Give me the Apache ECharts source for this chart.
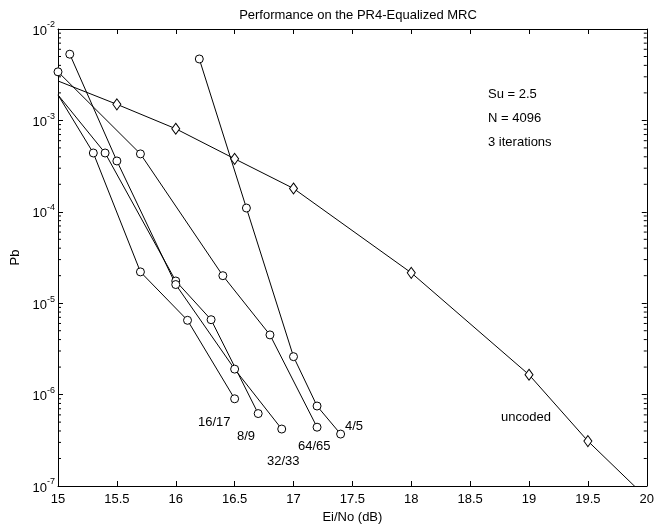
<!DOCTYPE html>
<html>
<head>
<meta charset="utf-8">
<script src="https://cdn.jsdelivr.net/npm/echarts@6/dist/echarts.min.js"></script>
<style>
  html, body { margin: 0; padding: 0; background: #fff; }
  #chart { width: 657px; height: 529px; }
</style>
</head>
<body>
<div id="chart"></div>
<script>
// (Ei/No in dB, Pb)
var x_16_17 = [15, 15.3, 15.7, 16.1, 16.5];
var pb_16_17 = [1.9e-3, 4.4e-4, 2.2e-5, 6.5e-6, 9.0e-7];
var x_8_9 = [15, 15.4, 16, 16.3, 16.7];
var pb_8_9 = [1.9e-3, 4.4e-4, 1.75e-5, 6.6e-6, 6.2e-7];
var x_32_33 = [15.1, 15.5, 16, 16.5, 16.9];
var pb_32_33 = [5.3e-3, 3.6e-4, 1.6e-5, 1.9e-6, 4.2e-7];
var x_64_65 = [15, 15.7, 16.4, 16.8, 17.2];
var pb_64_65 = [3.4e-3, 4.3e-4, 2.0e-5, 4.5e-6, 4.4e-7];
var x_4_5 = [16.2, 16.6, 17, 17.2, 17.4];
var pb_4_5 = [4.7e-3, 1.1e-4, 2.6e-6, 7.5e-7, 3.7e-7];
var x_uncoded = [15, 15.5, 16, 16.5, 17, 18, 19, 19.5, 20];
var pb_uncoded = [2.7e-3, 1.5e-3, 8.1e-4, 3.8e-4, 1.8e-4, 2.15e-5, 1.65e-6, 3.1e-7, 7.4e-8];

var titleText = 'Performance on the PR4-Equalized MRC';
var notes = ['Su = 2.5', 'N = 4096', '3 iterations'];

// minor tick marks on the log axis (2..9 in each decade)
var minorMantissa = [2, 3, 4, 5, 6, 7, 8, 9];
var decades = [-7, -6, -5, -4, -3];
var minorVals = [];
decades.forEach(function (d) {
    minorMantissa.forEach(function (m) { minorVals.push([15, m * Math.pow(10, d)]); });
});

var myChart = echarts.init(document.getElementById('chart'));

// points that start on the left axis have no marker drawn in the original
function pts(xs, ys, bareFirst) {
    var out = [];
    for (var i = 0; i < xs.length; i++) {
        var p = { value: [xs[i], ys[i]] };
        if (bareFirst && i == 0) p.symbol = 'none';
        out.push(p);
    }
    return out;
}

function coded(name, xs, ys, bareFirst) {
    return {
        name: name,
        type: 'line',
        data: pts(xs, ys, bareFirst),
        symbol: 'circle',
        symbolSize: 8,
        itemStyle: { color: '#fff', borderColor: '#000', borderWidth: 1 },
        lineStyle: { color: '#000', width: 1 },
        clip: true
    };
}

var font = 'Liberation Sans, Arial, Helvetica, sans-serif';
var tick = { show: true, inside: true, length: 5, lineStyle: { color: '#000' } };

option = {
    animation: false,
    backgroundColor: '#fff',
    textStyle: { fontFamily: font, color: '#000' },
    title: {
        text: titleText,
        left: 353, top: 4, textAlign: 'center',
        textStyle: { fontSize: 13, fontWeight: 'normal', color: '#000', fontFamily: font }
    },
    grid: { left: 58, right: 10, top: 29, bottom: 37 },
    xAxis: [{
        type: 'value', min: 15, max: 20, interval: 0.5,
        name: 'Ei/No (dB)', nameLocation: 'middle', nameGap: 25,
        nameTextStyle: { fontSize: 13, color: '#000', fontFamily: font },
        axisLine: { lineStyle: { color: '#000' } },
        axisTick: tick,
        axisLabel: { fontSize: 13, color: '#000', margin: 7, fontFamily: font },
        splitLine: { show: false }
    }, {
        type: 'value', min: 15, max: 20, interval: 0.5, position: 'top',
        axisLine: { lineStyle: { color: '#000' } },
        axisTick: tick, axisLabel: { show: false }, splitLine: { show: false }
    }],
    yAxis: [{
        type: 'log', logBase: 10, min: 1e-7, max: 1e-2,
        name: 'Pb', nameLocation: 'middle', nameGap: 36,
        nameTextStyle: { fontSize: 13, color: '#000', fontFamily: font },
        axisLine: { show: true, lineStyle: { color: '#000' } },
        axisTick: tick,
        axisLabel: {
            margin: 3, color: '#000', fontFamily: font,
            formatter: function (v) {
                return '{b|10}{s|' + Math.round(Math.log10(v)) + '}';
            },
            rich: {
                b: { fontSize: 13, fontFamily: font, color: '#000', verticalAlign: 'bottom' },
                s: { fontSize: 9, fontFamily: font, color: '#000', padding: [0, 0, 8, 0] }
            }
        },
        splitLine: { show: false }
    }, {
        type: 'log', logBase: 10, min: 1e-7, max: 1e-2, position: 'right',
        axisLine: { show: true, lineStyle: { color: '#000' } },
        axisTick: tick,
        axisLabel: { show: false }, splitLine: { show: false }
    }],
    series: [
        coded('16/17', x_16_17, pb_16_17, true),
        coded('8/9', x_8_9, pb_8_9, true),
        coded('32/33', x_32_33, pb_32_33, false),
        coded('64/65', x_64_65, pb_64_65, false),
        coded('4/5', x_4_5, pb_4_5, false),
        {
            name: 'uncoded',
            type: 'line',
            data: pts(x_uncoded, pb_uncoded, true),
            symbol: 'diamond',
            symbolSize: [8, 11],
            itemStyle: { color: '#fff', borderColor: '#000', borderWidth: 1 },
            lineStyle: { color: '#000', width: 1 },
            clip: true
        },
        {
            // short inward minor ticks on left and right edges
            type: 'custom',
            silent: true,
            data: minorVals,
            renderItem: function (params, api) {
                var l = api.coord([15, api.value(1)]);
                var r = api.coord([20, api.value(1)]);
                return {
                    type: 'group',
                    children: [
                        { type: 'line', shape: { x1: l[0], y1: l[1], x2: l[0] + 3, y2: l[1] }, style: { stroke: '#000', lineWidth: 1 } },
                        { type: 'line', shape: { x1: r[0], y1: r[1], x2: r[0] - 3, y2: r[1] }, style: { stroke: '#000', lineWidth: 1 } }
                    ]
                };
            }
        }
    ],
    graphic: [
        { type: 'text', left: 488, top: 88, style: { text: notes[0], font: '13px ' + font, fill: '#000' } },
        { type: 'text', left: 488, top: 112, style: { text: notes[1], font: '13px ' + font, fill: '#000' } },
        { type: 'text', left: 488, top: 136, style: { text: notes[2], font: '13px ' + font, fill: '#000' } },
        { type: 'text', left: 198, top: 416, style: { text: '16/17', font: '13px ' + font, fill: '#000' } },
        { type: 'text', left: 237, top: 430, style: { text: '8/9', font: '13px ' + font, fill: '#000' } },
        { type: 'text', left: 267, top: 455, style: { text: '32/33', font: '13px ' + font, fill: '#000' } },
        { type: 'text', left: 298, top: 440, style: { text: '64/65', font: '13px ' + font, fill: '#000' } },
        { type: 'text', left: 345, top: 420, style: { text: '4/5', font: '13px ' + font, fill: '#000' } },
        { type: 'text', left: 501, top: 411, style: { text: 'uncoded', font: '13px ' + font, fill: '#000' } }
    ]
};

myChart.setOption(option);
</script>
</body>
</html>
